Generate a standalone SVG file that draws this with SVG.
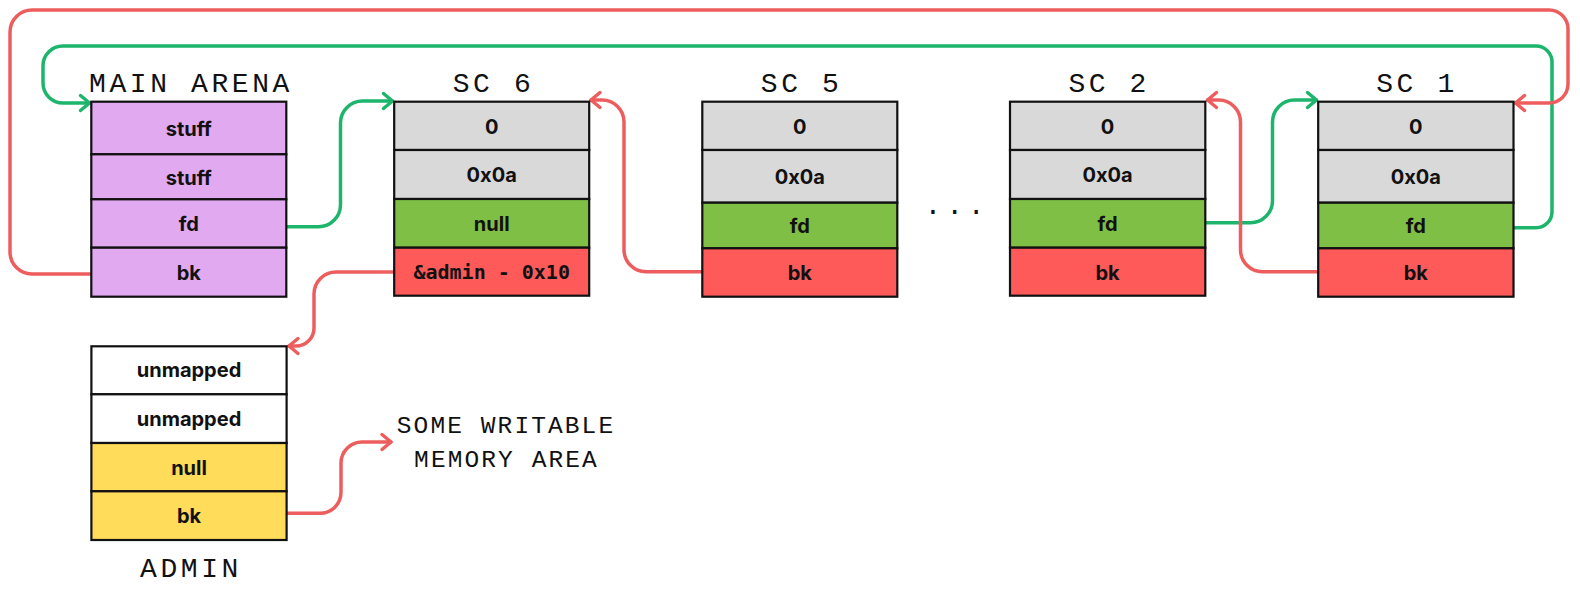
<svg xmlns="http://www.w3.org/2000/svg" width="1580" height="594" viewBox="0 0 1580 594">
<style>
  .cell { stroke: #111; stroke-width: 2.2; }
  .pur { fill: #E1A9F0; }
  .gry { fill: #D9D9D9; }
  .grn { fill: #7FBF45; }
  .red { fill: #FF5A5A; }
  .yel { fill: #FFDC5A; }
  .wht { fill: #FFFFFF; }
  .lbl { font-family: Inter, "Open Sans", "Liberation Sans", sans-serif; font-weight: 700; font-size: 20px; fill: #111; text-anchor: middle; }
  .mono { font-family: "DejaVu Sans Mono", "Liberation Mono", monospace; font-weight: 700; font-size: 20px; fill: #111; text-anchor: middle; }
  .title { font-family: "Liberation Mono", "DejaVu Sans Mono", monospace; font-size: 28px; letter-spacing: 3.6px; fill: #111; text-anchor: middle; }
  .note { font-family: "Liberation Mono", "DejaVu Sans Mono", monospace; font-size: 24.5px; letter-spacing: 2.1px; fill: #111; text-anchor: middle; }
  .cr { fill: none; stroke: #EE5D5D; stroke-width: 3.5; stroke-linecap: round; stroke-linejoin: round; }
  .cg { fill: none; stroke: #1DB56C; stroke-width: 3.5; stroke-linecap: round; stroke-linejoin: round; }
</style>
<defs>
  <marker id="ar" markerUnits="userSpaceOnUse" orient="auto" refX="0" refY="0" markerWidth="30" markerHeight="30" viewBox="-15 -15 30 30" overflow="visible">
    <path d="M -9 -7.5 L 0 0 L -9 7.5" fill="none" stroke="#EE5D5D" stroke-width="3.5" stroke-linecap="round" stroke-linejoin="round"/>
  </marker>
  <marker id="ag" markerUnits="userSpaceOnUse" orient="auto" refX="0" refY="0" markerWidth="30" markerHeight="30" viewBox="-15 -15 30 30" overflow="visible">
    <path d="M -9 -7.5 L 0 0 L -9 7.5" fill="none" stroke="#1DB56C" stroke-width="3.5" stroke-linecap="round" stroke-linejoin="round"/>
  </marker>
</defs>
<rect width="1580" height="594" fill="#FFFFFF"/>

<g id="connectors">
  <path class="cg" marker-end="url(#ag)" d="M 1513.5 227.7 H 1536 A 16 16 0 0 0 1552 211.7 V 62 A 16 16 0 0 0 1536 46 H 63 A 20 20 0 0 0 43 66 V 83 A 20 20 0 0 0 63 103 H 89.5"/>
  <path class="cr" marker-end="url(#ar)" d="M 91.3 274 H 32 A 22 22 0 0 1 10 252 V 32 A 22 22 0 0 1 32 10 H 1549 A 19 19 0 0 1 1568 29 V 84 A 19 19 0 0 1 1549 103 H 1515.5"/>
  <path class="cg" marker-end="url(#ag)" d="M 286.3 226.7 H 318.5 A 22 22 0 0 0 340.5 204.7 V 123 A 22 22 0 0 1 362.5 101 H 392.5"/>
  <path class="cr" marker-end="url(#ar)" d="M 394.2 272 H 336 A 22 22 0 0 0 314 294 V 328 A 18 18 0 0 1 296 346 H 289"/>
  <path class="cr" marker-end="url(#ar)" d="M 286.6 513.3 H 320 A 21 21 0 0 0 341 492.3 V 463 A 21 21 0 0 1 362 442 H 391"/>
  <path class="cr" marker-end="url(#ar)" d="M 702.3 271.7 H 646 A 22 22 0 0 1 624 249.7 V 122 A 22 22 0 0 0 602 100 H 591"/>
  <path class="cg" marker-end="url(#ag)" d="M 1205.3 222.7 H 1250.5 A 22 22 0 0 0 1272.5 200.7 V 122 A 22 22 0 0 1 1294.5 100 H 1316.5"/>
  <path class="cr" marker-end="url(#ar)" d="M 1318.2 271.7 H 1262.5 A 22 22 0 0 1 1240.5 249.7 V 122 A 22 22 0 0 0 1218.5 100 H 1207.5"/>
</g>

<g id="main-arena">
  <text class="title" x="191" y="91.7">MAIN ARENA</text>
  <rect class="cell pur" x="91.3" y="101.7" width="195" height="52.6"/>
  <rect class="cell pur" x="91.3" y="154.3" width="195" height="45"/>
  <rect class="cell pur" x="91.3" y="199.3" width="195" height="48.4"/>
  <rect class="cell pur" x="91.3" y="247.7" width="195" height="49"/>
  <text class="lbl" x="188.8" y="136">stuff</text>
  <text class="lbl" x="188.8" y="185">stuff</text>
  <text class="lbl" x="188.8" y="231.3">fd</text>
  <text class="lbl" x="188.8" y="280">bk</text>
</g>

<g id="sc6">
  <text class="title" x="493.5" y="91.7">SC 6</text>
  <rect class="cell gry" x="394.2" y="101.7" width="195" height="48.3"/>
  <rect class="cell gry" x="394.2" y="150" width="195" height="49"/>
  <rect class="cell grn" x="394.2" y="199" width="195" height="48.7"/>
  <rect class="cell red" x="394.2" y="247.7" width="195" height="48"/>
  <text class="lbl" x="491.7" y="133.5">0</text>
  <text class="lbl" x="491.7" y="182.3">0x0a</text>
  <text class="lbl" x="491.7" y="231.2">null</text>
  <text class="mono" x="491.7" y="279">&amp;admin - 0x10</text>
</g>

<g id="sc5">
  <text class="title" x="801.6" y="91.7">SC 5</text>
  <rect class="cell gry" x="702.3" y="101.7" width="195" height="48.3"/>
  <rect class="cell gry" x="702.3" y="150" width="195" height="52.7"/>
  <rect class="cell grn" x="702.3" y="202.7" width="195" height="45.6"/>
  <rect class="cell red" x="702.3" y="248.3" width="195" height="48.4"/>
  <text class="lbl" x="799.8" y="133.5">0</text>
  <text class="lbl" x="799.8" y="184">0x0a</text>
  <text class="lbl" x="799.8" y="233.3">fd</text>
  <text class="lbl" x="799.8" y="280">bk</text>
</g>

<g id="ellipsis">
  <text class="title" x="957" y="214" style="letter-spacing:4.9px">...</text>
</g>

<g id="sc2">
  <text class="title" x="1109.2" y="91.7">SC 2</text>
  <rect class="cell gry" x="1010" y="101.7" width="195.3" height="48.3"/>
  <rect class="cell gry" x="1010" y="150" width="195.3" height="49"/>
  <rect class="cell grn" x="1010" y="199" width="195.3" height="48.7"/>
  <rect class="cell red" x="1010" y="247.7" width="195.3" height="48"/>
  <text class="lbl" x="1107.6" y="133.5">0</text>
  <text class="lbl" x="1107.6" y="182.3">0x0a</text>
  <text class="lbl" x="1107.6" y="231.2">fd</text>
  <text class="lbl" x="1107.6" y="279.5">bk</text>
</g>

<g id="sc1">
  <text class="title" x="1417" y="91.7">SC 1</text>
  <rect class="cell gry" x="1318.2" y="101.7" width="195.3" height="48.3"/>
  <rect class="cell gry" x="1318.2" y="150" width="195.3" height="52.7"/>
  <rect class="cell grn" x="1318.2" y="202.7" width="195.3" height="45.6"/>
  <rect class="cell red" x="1318.2" y="248.3" width="195.3" height="48.4"/>
  <text class="lbl" x="1415.8" y="133.5">0</text>
  <text class="lbl" x="1415.8" y="184">0x0a</text>
  <text class="lbl" x="1415.8" y="233.3">fd</text>
  <text class="lbl" x="1415.8" y="280">bk</text>
</g>

<g id="admin">
  <rect class="cell wht" x="91.4" y="346.3" width="195.2" height="48"/>
  <rect class="cell wht" x="91.4" y="394.3" width="195.2" height="48.7"/>
  <rect class="cell yel" x="91.4" y="443" width="195.2" height="48.3"/>
  <rect class="cell yel" x="91.4" y="491.3" width="195.2" height="48.7"/>
  <text class="lbl" x="189" y="377.3">unmapped</text>
  <text class="lbl" x="189" y="425.5">unmapped</text>
  <text class="lbl" x="189" y="474.5">null</text>
  <text class="lbl" x="189" y="523.3">bk</text>
  <text class="title" x="191" y="577.3">ADMIN</text>
</g>

<g id="writable-label">
  <text class="note" x="506" y="433.3">SOME WRITABLE</text>
  <text class="note" x="506.5" y="466.7">MEMORY AREA</text>
</g>
</svg>
